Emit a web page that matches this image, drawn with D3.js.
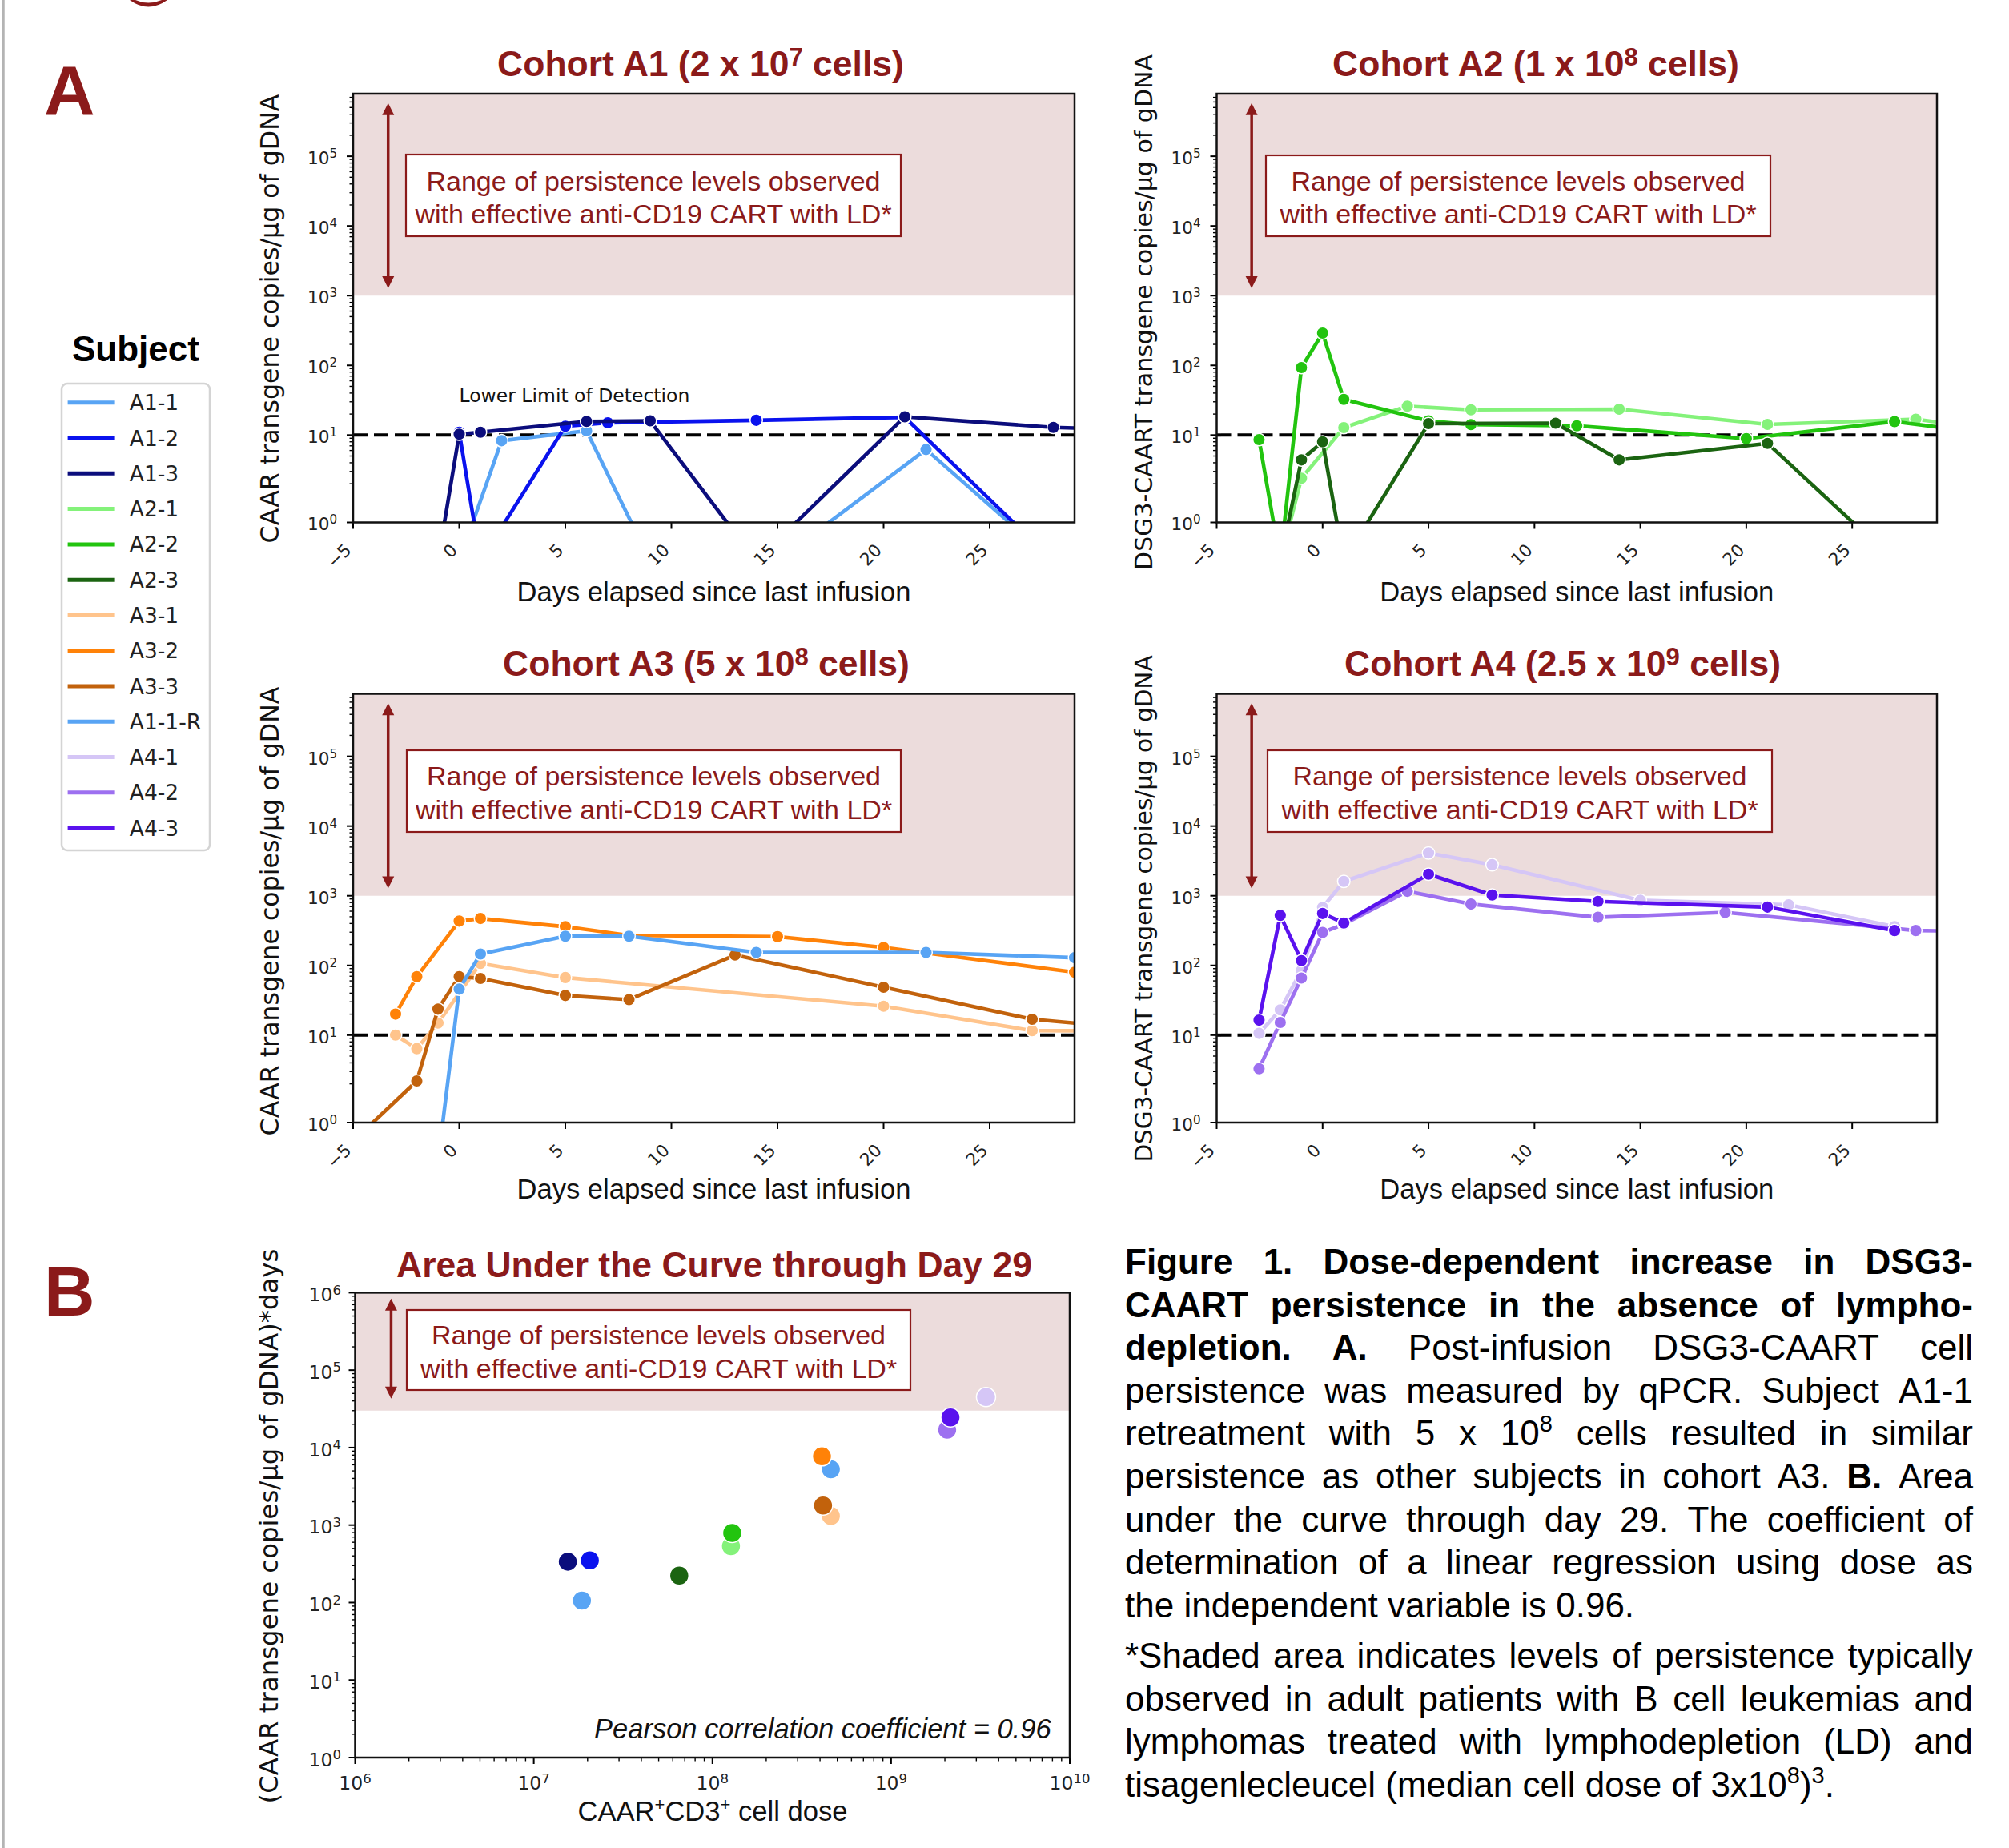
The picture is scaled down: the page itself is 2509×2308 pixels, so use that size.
<!DOCTYPE html>
<html>
<head>
<meta charset="utf-8">
<script src="https://cdn.jsdelivr.net/npm/d3@7/dist/d3.min.js"></script>
<style>
html,body{margin:0;padding:0;background:#fff;}
svg{display:block;}
</style>
</head>
<body>
<svg id="fig" width="2509" height="2308" xmlns="http://www.w3.org/2000/svg"></svg>
<script>
// ================= DATA =================
const subjects = ["A1-1","A1-2","A1-3","A2-1","A2-2","A2-3","A3-1","A3-2","A3-3","A1-1-R","A4-1","A4-2","A4-3"];
const subjectColors = ["#58a4f4","#0a12ee","#0b0d7c","#84f27a","#22c40f","#1b6411","#ffc48c","#ff8208","#c2620c","#58a4f4","#d5c6f6","#9d70f0","#5a12ee"];

// Cohort A1 (days since last infusion, copies/ug gDNA)
const daysA1_1 = [0, 2, 6, 9, 15, 22, 28];
const valsA1_1 = [0, 8.3, 11.5, 0, 0, 6.2, 0];
const daysA1_2 = [0, 1, 5, 7, 14, 21, 28];
const valsA1_2 = [11, 0, 13.4, 15, 16.3, 18, 0];
const daysA1_3 = [-1, 0, 1, 6, 9, 14, 21, 28, 35];
const valsA1_3 = [0, 10.3, 11, 15.7, 16, 0, 18.3, 12.9, 11];
// Cohort A2
const daysA2_1 = [-2, -1, 1, 4, 7, 14, 21, 28, 30];
const valsA2_1 = [0, 2.4, 12.8, 26, 23, 23.5, 14.2, 16.9, 14];
const daysA2_2 = [-3, -2, -1, 0, 1, 5, 7, 12, 20, 27, 30];
const valsA2_2 = [8.6, 0, 93, 290, 32.5, 16, 14.1, 13.6, 8.9, 15.6, 12];
const daysA2_3 = [-2, -1, 0, 1, 5, 11, 14, 21, 27];
const valsA2_3 = [0, 4.4, 8.0, 0, 14.6, 14.8, 4.4, 7.6, 0];
// Cohort A3 (+ A1-1 retreatment)
const daysA3_1 = [-3, -2, -1, 1, 5, 20, 27, 30];
const valsA3_1 = [10, 6.4, 14.9, 107, 67, 26, 11.6, 11.5];
const daysA3_2 = [-3, -2, 0, 1, 5, 8, 15, 20, 29];
const valsA3_2 = [20, 69, 433, 472, 360, 270, 259, 181, 80];
const daysA3_3 = [-6, -2, -1, 0, 1, 5, 8, 13, 20, 27, 30];
const valsA3_3 = [0, 2.2, 23.6, 69, 65, 37, 32.3, 141, 48.7, 16.9, 14];
const daysA1_1R = [-1, 0, 1, 5, 8, 14, 22, 29];
const valsA1_1R = [0, 45.7, 146, 263, 263, 154, 154, 129];
// Cohort A4
const daysA4_1 = [-3, -2, -1, 0, 1, 5, 8, 15, 22, 27];
const valsA4_1 = [10.6, 23, 85, 680, 1607, 4111, 2793, 861, 741, 360];
const daysA4_2 = [-3, -2, -1, 0, 1, 4, 7, 13, 19, 28, 30];
const valsA4_2 = [3.3, 15.2, 66, 298, 390, 1160, 760, 491, 578, 317, 310];
const daysA4_3 = [-3, -2, -1, 0, 1, 5, 8, 13, 21, 27];
const valsA4_3 = [16.4, 522, 117, 557, 407, 2042, 1026, 830, 688, 317];

// Panel B: dose vs AUC through day 29
const aucSubjects = ["A1-1","A1-2","A1-3","A2-1","A2-2","A2-3","A1-1-R","A3-1","A3-2","A3-3","A4-1","A4-2","A4-3"];
const aucDose = [1.86e7, 2.06e7, 1.55e7, 1.27e8, 1.29e8, 6.52e7, 4.6e8, 4.6e8, 4.1e8, 4.16e8, 3.4e9, 2.06e9, 2.15e9];
const aucValue = [106, 350, 337, 535, 791, 223, 5236, 1313, 7710, 1786, 44870, 17030, 24530];

// axes / reference values
const dayDomain = [-5, 29];
const dayTicks = [-5, 0, 5, 10, 15, 20, 25];
const dayTickLabels = ["\u22125", "0", "5", "10", "15", "20", "25"];
const yDomainA = [1, 7.9e5];
const yTicksA = [1, 10, 100, 1000, 10000, 100000];
const yTickExpA = ["0", "1", "2", "3", "4", "5"];
const lodValue = 10;
const shadeFloorA = 1000;
const arrowA = {day: -3.35, lo: 1280, hi: 5.8e5};
const doseDomain = [1e6, 1e10];
const doseTicks = [1e6, 1e7, 1e8, 1e9, 1e10];
const doseTickExp = ["6", "7", "8", "9", "10"];
const aucDomain = [1, 1e6];
const aucTicks = [1, 10, 100, 1000, 1e4, 1e5, 1e6];
const aucTickExp = ["0", "1", "2", "3", "4", "5", "6"];
const shadeFloorB = 3e4;
const arrowB = {dose: 1.59e6, lo: 4.3e4, hi: 8.4e5};

const annotLines = ["Range of persistence levels observed", "with effective anti-CD19 CART with LD*"];

const captionPara1 = [
  "§Figure §1. §Dose-dependent §increase §in §DSG3-",
  "§CAART §persistence §in §the §absence §of §lympho-",
  "§depletion. §A. Post-infusion DSG3-CAART cell",
  "persistence was measured by qPCR. Subject A1-1",
  "retreatment with 5 x 10^8 cells resulted in similar",
  "persistence as other subjects in cohort A3. §B. Area",
  "under the curve through day 29. The coefficient of",
  "determination of a linear regression using dose as",
  "the independent variable is 0.96."
];
const captionPara2 = [
  "*Shaded area indicates levels of persistence typically",
  "observed in adult patients with B cell leukemias and",
  "lymphomas treated with lymphodepletion (LD) and",
  "tisagenlecleucel (median cell dose of 3x10^8)^3."
];

// ================= DRAWING =================
const FS = "'Liberation Sans', Arial, Helvetica, sans-serif";
const FD = "'DejaVu Sans', Verdana, sans-serif";
const DARK_RED = "#8b1a1a";
const SHADE = "#ecdcdc";

const svg = d3.select("#fig");
const defs = svg.append("defs");
const colorOf = s => subjectColors[subjects.indexOf(s)];

function symT(v) { const L = 2, s = 1 / (1 - 1 / 10); return v <= L ? v * s / L : s + Math.log10(v / L); }

// page decorations
svg.append("line").attr("x1", 4).attr("x2", 4).attr("y1", 0).attr("y2", 2308)
  .attr("stroke", "#b4b4b4").attr("stroke-width", 3.5);
svg.append("path").attr("d", "M162,0 Q185,17 209,0 L202,0 Q185,7 169,0 Z").attr("fill", DARK_RED);
svg.append("text").attr("x", 55).attr("y", 143).attr("font-family", FS).attr("font-weight", "bold")
  .attr("font-size", 88).attr("fill", DARK_RED).text("A");
svg.append("text").attr("x", 55).attr("y", 1643).attr("font-family", FS).attr("font-weight", "bold")
  .attr("font-size", 88).attr("fill", DARK_RED).text("B");

function drawArrow(g, ax, yTop, yBot) {
  const hl = 15, hw = 7.5;
  g.append("line").attr("x1", ax).attr("x2", ax).attr("y1", yTop + hl - 2).attr("y2", yBot - hl + 2)
    .attr("stroke", DARK_RED).attr("stroke-width", 3.5);
  g.append("path").attr("d", `M${ax},${yTop} L${ax - hw},${yTop + hl} L${ax + hw},${yTop + hl} Z`).attr("fill", DARK_RED);
  g.append("path").attr("d", `M${ax},${yBot} L${ax - hw},${yBot - hl} L${ax + hw},${yBot - hl} Z`).attr("fill", DARK_RED);
}

function drawAnnot(g, b) {
  g.append("rect").attr("x", b.x0).attr("y", b.y0).attr("width", b.x1 - b.x0).attr("height", b.y1 - b.y0)
    .attr("fill", "#fff").attr("stroke", DARK_RED).attr("stroke-width", 2.2);
  const cx = (b.x0 + b.x1) / 2;
  [b.t1, b.t2].forEach((ty, i) => {
    g.append("text").attr("x", cx).attr("y", ty).attr("text-anchor", "middle").attr("font-family", FS)
      .attr("font-size", 34).attr("fill", DARK_RED).text(annotLines[i]);
  });
}

function titleText(g, cx, by, parts, size) {
  const t = g.append("text").attr("x", cx).attr("y", by).attr("text-anchor", "middle").attr("font-family", FS)
    .attr("font-weight", "bold").attr("font-size", size).attr("fill", DARK_RED);
  t.append("tspan").text(parts[0]);
  if (parts.length > 1) {
    t.append("tspan").attr("font-size", size * 0.7).attr("dy", -13).text(parts[1]);
    t.append("tspan").attr("dy", 13).text(parts[2]);
  }
}

const panelsA = [
  {id: "clipA1", left: 441, right: 1342, top: 117, bottom: 652.5,
   title: ["Cohort A1 (2 x 10", "7", " cells)"], titleX: 875, titleY: 94.5,
   ylabel: "CAAR transgene copies/\u00b5g of gDNA", ylabelSize: 31.6, ylabelX: 348, ylabelY: 398,
   xlabelY: 751, lodText: true,
   box: {x0: 507, x1: 1125, y0: 193, y1: 295, t1: 238, t2: 279},
   series: [["A1-1", daysA1_1, valsA1_1], ["A1-2", daysA1_2, valsA1_2], ["A1-3", daysA1_3, valsA1_3]]},
  {id: "clipA2", left: 1519.5, right: 2419, top: 117, bottom: 652.5,
   title: ["Cohort A2 (1 x 10", "8", " cells)"], titleX: 1918, titleY: 94.5,
   ylabel: "DSG3-CAART transgene copies/\u00b5g of gDNA", ylabelSize: 30, ylabelX: 1439, ylabelY: 390,
   xlabelY: 751, lodText: false,
   box: {x0: 1581, x1: 2211, y0: 194, y1: 295, t1: 238, t2: 279},
   series: [["A2-1", daysA2_1, valsA2_1], ["A2-2", daysA2_2, valsA2_2], ["A2-3", daysA2_3, valsA2_3]]},
  {id: "clipA3", left: 441, right: 1342, top: 866.5, bottom: 1402,
   title: ["Cohort A3 (5 x 10", "8", " cells)"], titleX: 882, titleY: 843.7,
   ylabel: "CAAR transgene copies/\u00b5g of gDNA", ylabelSize: 31.6, ylabelX: 348, ylabelY: 1138,
   xlabelY: 1497, lodText: false,
   box: {x0: 508, x1: 1125, y0: 937, y1: 1039, t1: 981, t2: 1023},
   series: [["A3-1", daysA3_1, valsA3_1], ["A3-2", daysA3_2, valsA3_2], ["A3-3", daysA3_3, valsA3_3], ["A1-1-R", daysA1_1R, valsA1_1R]]},
  {id: "clipA4", left: 1519.5, right: 2419, top: 866.5, bottom: 1402,
   title: ["Cohort A4 (2.5 x 10", "9", " cells)"], titleX: 1951.5, titleY: 843.7,
   ylabel: "DSG3-CAART transgene copies/\u00b5g of gDNA", ylabelSize: 29.5, ylabelX: 1439, ylabelY: 1135,
   xlabelY: 1497, lodText: false,
   box: {x0: 1583, x1: 2213, y0: 937, y1: 1039, t1: 981, t2: 1023},
   series: [["A4-1", daysA4_1, valsA4_1], ["A4-2", daysA4_2, valsA4_2], ["A4-3", daysA4_3, valsA4_3]]}
];

panelsA.forEach(p => {
  const x = d3.scaleLinear().domain(dayDomain).range([p.left, p.right]);
  const yl = d3.scaleLinear().domain([symT(yDomainA[0]), symT(yDomainA[1])]).range([p.bottom, p.top]);
  const y = v => yl(symT(v));
  const g = svg.append("g");
  defs.append("clipPath").attr("id", p.id).append("rect")
    .attr("x", p.left).attr("y", p.top).attr("width", p.right - p.left).attr("height", p.bottom - p.top);

  g.append("rect").attr("x", p.left).attr("y", p.top).attr("width", p.right - p.left)
    .attr("height", y(shadeFloorA) - p.top).attr("fill", SHADE);
  g.append("line").attr("x1", p.left).attr("x2", p.right).attr("y1", y(lodValue)).attr("y2", y(lodValue))
    .attr("stroke", "#000").attr("stroke-width", 4).attr("stroke-dasharray", "18,8");
  if (p.lodText) {
    g.append("text").attr("x", x(0)).attr("y", y(30)).attr("font-family", FD).attr("font-size", 23.5)
      .attr("fill", "#111").text("Lower Limit of Detection");
  }

  const line = d3.line().x(d => x(d[0])).y(d => y(d[1]));
  const dg = g.append("g").attr("clip-path", `url(#${p.id})`);
  p.series.forEach(([name, days, vals]) => {
    const pts = days.map((d, i) => [d, vals[i]]);
    const c = colorOf(name);
    dg.append("path").attr("d", line(pts)).attr("fill", "none").attr("stroke", c)
      .attr("stroke-width", 4.6).attr("stroke-linejoin", "round");
    dg.selectAll(null).data(pts).enter().append("circle")
      .attr("cx", d => x(d[0])).attr("cy", d => y(d[1])).attr("r", 7.8)
      .attr("fill", c).attr("stroke", "#fff").attr("stroke-width", 1.5);
  });

  drawArrow(g, x(arrowA.day), y(arrowA.hi), y(arrowA.lo));
  drawAnnot(g, p.box);

  // y ticks
  for (let d = 0; d <= 5; d++) {
    for (let k = 2; k <= 9; k++) {
      const v = k * Math.pow(10, d);
      if (v > yDomainA[1]) continue;
      g.append("line").attr("x1", p.left - 4.5).attr("x2", p.left).attr("y1", y(v)).attr("y2", y(v))
        .attr("stroke", "#000").attr("stroke-width", 1.4);
    }
  }
  yTicksA.forEach((v, i) => {
    g.append("line").attr("x1", p.left - 8).attr("x2", p.left).attr("y1", y(v)).attr("y2", y(v))
      .attr("stroke", "#000").attr("stroke-width", 2);
    const t = g.append("text").attr("x", p.left - 20).attr("y", y(v) + 9.9).attr("text-anchor", "end")
      .attr("font-family", FD).attr("font-size", 21.6).attr("fill", "#222");
    t.append("tspan").text("10");
    t.append("tspan").attr("font-size", 15.1).attr("dy", -8).text(yTickExpA[i]);
  });
  // x ticks
  dayTicks.forEach((d, i) => {
    g.append("line").attr("x1", x(d)).attr("x2", x(d)).attr("y1", p.bottom).attr("y2", p.bottom + 8)
      .attr("stroke", "#000").attr("stroke-width", 2);
    g.append("text").attr("transform", `translate(${x(d) - 1},${p.bottom + 36}) rotate(-45)`)
      .attr("text-anchor", "end").attr("font-family", FD).attr("font-size", 21.6).attr("fill", "#222")
      .text(dayTickLabels[i]);
  });
  // spines
  g.append("rect").attr("x", p.left).attr("y", p.top).attr("width", p.right - p.left).attr("height", p.bottom - p.top)
    .attr("fill", "none").attr("stroke", "#111").attr("stroke-width", 2.5);

  titleText(g, p.titleX, p.titleY, p.title, 44.5);
  g.append("text").attr("x", (p.left + p.right) / 2).attr("y", p.xlabelY).attr("text-anchor", "middle")
    .attr("font-family", FS).attr("font-size", 34.6).attr("fill", "#111").text("Days elapsed since last infusion");
  g.append("text").attr("transform", `translate(${p.ylabelX},${p.ylabelY}) rotate(-90)`).attr("text-anchor", "middle")
    .attr("font-family", FD).attr("font-size", p.ylabelSize).attr("fill", "#111").text(p.ylabel);
});

// ---------- Panel B ----------
(function () {
  const pb = {left: 443.5, right: 1336, top: 1614.4, bottom: 2195};
  const x = d3.scaleLog().domain(doseDomain).range([pb.left, pb.right]);
  const y = d3.scaleLog().domain(aucDomain).range([pb.bottom, pb.top]);
  const g = svg.append("g");
  g.append("rect").attr("x", pb.left).attr("y", pb.top).attr("width", pb.right - pb.left)
    .attr("height", y(shadeFloorB) - pb.top).attr("fill", SHADE);
  drawArrow(g, x(arrowB.dose), y(arrowB.hi), y(arrowB.lo));
  drawAnnot(g, {x0: 508, x1: 1137, y0: 1636, y1: 1736, t1: 1679, t2: 1721});

  aucSubjects.forEach((s, i) => {
    g.append("circle").attr("cx", x(aucDose[i])).attr("cy", y(aucValue[i])).attr("r", 12)
      .attr("fill", colorOf(s)).attr("stroke", "#fff").attr("stroke-width", 1.5);
  });

  g.append("text").attr("x", 1312.6).attr("y", 2171).attr("text-anchor", "end").attr("font-family", FS)
    .attr("font-style", "italic").attr("font-size", 34.5).attr("fill", "#111")
    .text("Pearson correlation coefficient = 0.96");

  // minor ticks
  for (let d = 0; d < 6; d++) for (let k = 2; k <= 9; k++) {
    const v = k * Math.pow(10, d);
    g.append("line").attr("x1", pb.left - 4.5).attr("x2", pb.left).attr("y1", y(v)).attr("y2", y(v))
      .attr("stroke", "#000").attr("stroke-width", 1.4);
  }
  for (let d = 6; d < 10; d++) for (let k = 2; k <= 9; k++) {
    const v = k * Math.pow(10, d);
    g.append("line").attr("x1", x(v)).attr("x2", x(v)).attr("y1", pb.bottom).attr("y2", pb.bottom + 4.5)
      .attr("stroke", "#000").attr("stroke-width", 1.4);
  }
  aucTicks.forEach((v, i) => {
    g.append("line").attr("x1", pb.left - 8).attr("x2", pb.left).attr("y1", y(v)).attr("y2", y(v))
      .attr("stroke", "#000").attr("stroke-width", 2);
    const t = g.append("text").attr("x", pb.left - 17.5).attr("y", y(v) + 10.6).attr("text-anchor", "end")
      .attr("font-family", FD).attr("font-size", 23.5).attr("fill", "#222");
    t.append("tspan").text("10");
    t.append("tspan").attr("font-size", 16.5).attr("dy", -8.5).text(aucTickExp[i]);
  });
  doseTicks.forEach((v, i) => {
    g.append("line").attr("x1", x(v)).attr("x2", x(v)).attr("y1", pb.bottom).attr("y2", pb.bottom + 8)
      .attr("stroke", "#000").attr("stroke-width", 2);
    const t = g.append("text").attr("x", x(v)).attr("y", pb.bottom + 40).attr("text-anchor", "middle")
      .attr("font-family", FD).attr("font-size", 23.5).attr("fill", "#222");
    t.append("tspan").text("10");
    t.append("tspan").attr("font-size", 16.5).attr("dy", -8.5).text(doseTickExp[i]);
  });
  g.append("rect").attr("x", pb.left).attr("y", pb.top).attr("width", pb.right - pb.left).attr("height", pb.bottom - pb.top)
    .attr("fill", "none").attr("stroke", "#111").attr("stroke-width", 2.5);

  titleText(g, 892, 1594.5, ["Area Under the Curve through Day 29"], 44.5);
  const xl = g.append("text").attr("x", 890).attr("y", 2274).attr("text-anchor", "middle").attr("font-family", FS)
    .attr("font-size", 34.6).attr("fill", "#111");
  xl.append("tspan").text("CAAR");
  xl.append("tspan").attr("font-size", 22).attr("dy", -13).text("+");
  xl.append("tspan").attr("dy", 13).text("CD3");
  xl.append("tspan").attr("font-size", 22).attr("dy", -13).text("+");
  xl.append("tspan").attr("dy", 13).text(" cell dose");
  g.append("text").attr("transform", "translate(347,1906) rotate(-90)").attr("text-anchor", "middle")
    .attr("font-family", FD).attr("font-size", 32.4).attr("fill", "#111")
    .text("(CAAR transgene copies/\u00b5g of gDNA)*days");
})();

// ---------- Legend ----------
(function () {
  const g = svg.append("g");
  g.append("text").attr("x", 169.4).attr("y", 451).attr("text-anchor", "middle").attr("font-family", FS)
    .attr("font-weight", "bold").attr("font-size", 44).attr("fill", "#000").text("Subject");
  g.append("rect").attr("x", 77).attr("y", 479).attr("width", 185).attr("height", 583).attr("rx", 7)
    .attr("fill", "#fff").attr("stroke", "#d4d4d4").attr("stroke-width", 2.5);
  subjects.forEach((s, i) => {
    const cy = 502.8 + i * 44.27;
    g.append("line").attr("x1", 84.6).attr("x2", 142.6).attr("y1", cy).attr("y2", cy)
      .attr("stroke", subjectColors[i]).attr("stroke-width", 5);
    g.append("text").attr("x", 161.8).attr("y", cy + 9.6).attr("font-family", FD).attr("font-size", 26.5)
      .attr("fill", "#222").text(s);
  });
})();

// ---------- Caption (justified) ----------
(function () {
  const g = svg.append("g");
  const X0 = 1405, X1 = 2464, FSZ = 44;
  function parseWord(w) {
    let bold = false;
    if (w.startsWith("\u00a7")) { bold = true; w = w.slice(1); }
    const parts = w.split(/\^(.)/);
    return {bold, parts};
  }
  function renderLine(str, baseY, justify) {
    const words = str.split(" ").map(parseWord);
    const els = words.map(wd => {
      const t = g.append("text").attr("x", 0).attr("y", baseY).attr("font-family", FS).attr("font-size", FSZ)
        .attr("fill", "#000").attr("font-weight", wd.bold ? "bold" : "normal");
      let shifted = false;
      wd.parts.forEach((seg, i) => {
        if (seg === "") return;
        if (i % 2 === 1) {
          t.append("tspan").attr("font-size", FSZ * 0.66).attr("dy", shifted ? 0 : -17).text(seg);
          shifted = true;
        } else {
          t.append("tspan").attr("dy", shifted ? 17 : 0).text(seg);
          shifted = false;
        }
      });
      return t;
    });
    const widths = els.map(e => e.node().getComputedTextLength());
    const total = d3.sum(widths);
    const gap = justify && els.length > 1 ? (X1 - X0 - total) / (els.length - 1) : FSZ * 0.278;
    let cx = X0;
    els.forEach((e, i) => { e.attr("x", cx); cx += widths[i] + gap; });
  }
  captionPara1.forEach((l, i) => renderLine(l, 1591 + i * 53.6, i < captionPara1.length - 1));
  captionPara2.forEach((l, i) => renderLine(l, 2083 + i * 53.5, i < captionPara2.length - 1));
})();
</script>
</body>
</html>
